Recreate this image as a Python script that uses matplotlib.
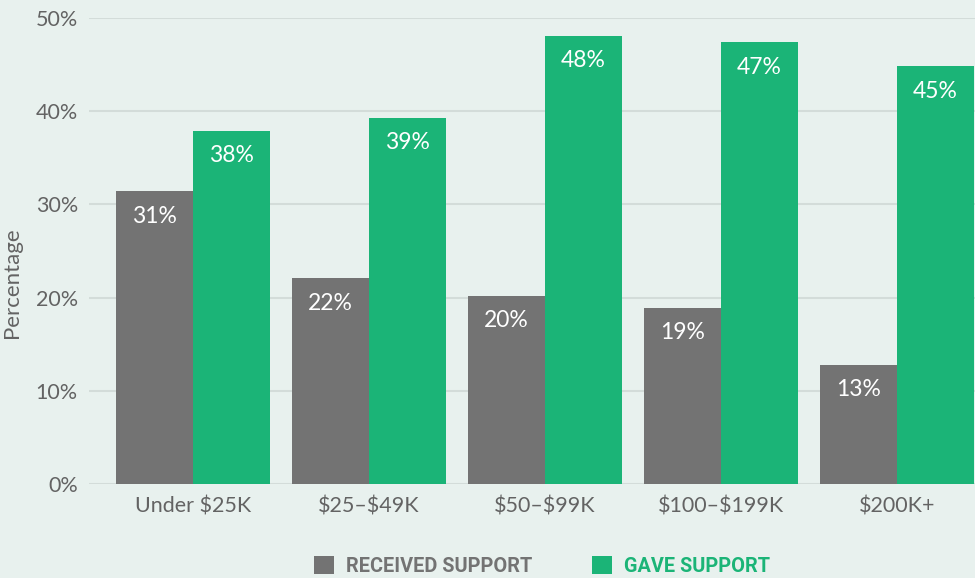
import matplotlib
matplotlib.use("Agg")
import matplotlib.pyplot as plt
import numpy as np

categories = ["Under $25K", "$25\u2013$49K", "$50\u2013$99K", "$100\u2013$199K", "$200K+"]
received = [31.4, 22.1, 20.2, 18.9, 12.8]
gave = [37.9, 39.3, 48.1, 47.4, 44.8]
series_names = ["RECEIVED SUPPORT", "GAVE SUPPORT"]
y_ticks = [0, 10, 20, 30, 40, 50]

BG = "#e8f1ee"
GREY = "#737373"
GREEN = "#1bb477"
TEXT = "#636363"

plt.rcParams["font.family"] = ["Lato", "DejaVu Sans"]
plt.rcParams["text.parse_math"] = False

fig = plt.figure(figsize=(9.75, 5.78), dpi=100, facecolor=BG)
ax = fig.add_axes([89 / 975, (578 - 484) / 578, 1 - 89 / 975, (484 - 18) / 578])
ax.set_facecolor(BG)

x = np.arange(len(categories))
w = 0.4375
b1 = ax.bar(x - w / 2, received, width=w, color=GREY, zorder=3, label=series_names[0])
b2 = ax.bar(x + w / 2, gave, width=w, color=GREEN, zorder=3, label=series_names[1])

for bars in (b1, b2):
    for rect in bars:
        v = rect.get_height()
        ax.annotate(f"{v:.0f}%", (rect.get_x() + rect.get_width() / 2, v),
                    xytext=(0, -25), textcoords="offset pixels",
                    ha="center", va="center", color="white", fontsize=16.5, zorder=4)

ax.set_xlim(-104 / 176, len(categories) - 1 + 78 / 176)
ax.set_ylim(0, 50)
ax.set_yticks(y_ticks)
ax.set_yticklabels([f"{t}%" for t in y_ticks])
ax.set_xticks(x)
ax.set_xticklabels(categories)
ax.tick_params(axis="both", length=0, labelsize=15.5, labelcolor=TEXT)
ax.tick_params(axis="y", pad=8)
ax.tick_params(axis="x", pad=9)

ax.grid(axis="y", color="#d3dcd9", linewidth=1.5, zorder=0)
for s in ax.spines.values():
    s.set_visible(False)

fig.text(12 / 975, 1 - 283 / 578, "Percentage", rotation=90, ha="center", va="center",
         fontsize=16, color=TEXT)

leg = ax.legend(handles=[b1, b2], loc="center", ncol=2, frameon=False,
                handlelength=1.0, handleheight=1.0, handletextpad=0.6, columnspacing=3.0,
                prop={"family": ["Roboto", "DejaVu Sans"], "weight": "bold", "size": 14.3})
leg.set_bbox_to_anchor((542 / 975, 1 - 566 / 578), transform=fig.transFigure)
for t, c in zip(leg.get_texts(), [GREY, GREEN]):
    t.set_color(c)

fig.savefig("out.png", dpi=100, facecolor=BG)
